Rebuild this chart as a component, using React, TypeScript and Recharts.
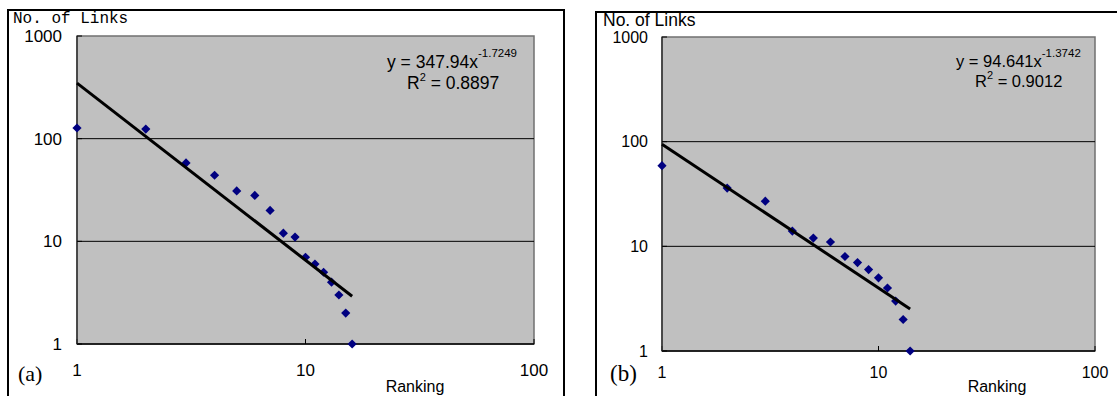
import React from "react";
import {
  ScatterChart,
  Scatter,
  XAxis,
  YAxis,
  CartesianGrid,
  ReferenceLine,
  ReferenceArea,
} from "recharts";

// panel (a)
const ranksA = [1, 2, 3, 4, 5, 6, 7, 8, 9, 10, 11, 12, 13, 14, 15, 16];
const linksA = [127, 124, 58, 44, 31, 28, 20, 12, 11, 7, 6, 5, 4, 3, 2, 1];
const fitA = { a: 347.94, b: -1.7249, aLabel: "347.94", bLabel: "-1.7249", r2: "0.8897" };

// panel (b)
const ranksB = [1, 2, 3, 4, 5, 6, 7, 8, 9, 10, 11, 12, 13, 14];
const linksB = [59, 36, 27, 14, 12, 11, 8, 7, 6, 5, 4, 3, 2, 1];
const fitB = { a: 94.641, b: -1.3742, aLabel: "94.641", bLabel: "-1.3742", r2: "0.9012" };

const xTicks = [1, 10, 100];
const yTicks = [1, 10, 100, 1000];
const gridValues = [10, 100];

type Fit = { a: number; b: number };

const toPoints = (xs: number[], ys: number[]) => xs.map((x, i) => ({ x, y: ys[i] }));
// power-law trendline is straight on log-log axes: its two ends are enough
const trendPoints = (xs: number[], fit: Fit) =>
  [xs[0], xs[xs.length - 1]].map((x) => ({ x, y: fit.a * Math.pow(x, fit.b) }));

const Diamond = (props: any) => {
  const { cx, cy } = props;
  const r = 4.6;
  return (
    <polygon
      points={`${cx},${cy - r} ${cx + r},${cy} ${cx},${cy + r} ${cx - r},${cy}`}
      fill="#000080"
    />
  );
};
const NoDot = () => <g />;

const sans = "'Liberation Sans', Arial, sans-serif";

type PanelProps = {
  width: number;
  margin: { top: number; right: number; bottom: number; left: number };
  ranks: number[];
  links: number[];
  fit: Fit;
  fontSize: number;
  yTickMargin: number;
  xTickMargin: number;
};

const Panel: React.FC<PanelProps> = ({ width, margin, ranks, links, fit, fontSize, yTickMargin, xTickMargin }) => (
  <ScatterChart width={width} height={396} margin={margin}>
    <CartesianGrid horizontal={false} vertical={false} fill="#C0C0C0" />
    {gridValues.map((v) => (
      <ReferenceLine key={v} y={v} stroke="#000" strokeWidth={1} />
    ))}
    <ReferenceArea x1={1} x2={100} y1={1} y2={1000} fill="none" stroke="#707070" strokeWidth={1.5} />
    <XAxis
      type="number"
      dataKey="x"
      scale="log"
      domain={[1, 100]}
      ticks={xTicks}
      interval={0}
      height={30}
      tickSize={-5}
      tickMargin={xTickMargin}
      axisLine={{ stroke: "#000", strokeWidth: 1.5 }}
      tickLine={{ stroke: "#000" }}
      tick={{ fill: "#000", fontSize, fontFamily: sans }}
    />
    <YAxis
      type="number"
      dataKey="y"
      scale="log"
      domain={[1, 1000]}
      ticks={yTicks}
      interval={0}
      width={60}
      tickSize={-5}
      tickMargin={yTickMargin}
      axisLine={{ stroke: "#333", strokeWidth: 1.5 }}
      tickLine={{ stroke: "#000" }}
      tick={{ fill: "#000", fontSize, fontFamily: sans }}
    />
    <Scatter data={toPoints(ranks, links)} shape={Diamond} isAnimationActive={false} />
    <Scatter
      data={trendPoints(ranks, fit)}
      shape={NoDot}
      stroke="#000"
      line={{ stroke: "#000", strokeWidth: 3 }}
      isAnimationActive={false}
    />
  </ScatterChart>
);

const App: React.FC = () => {
  return (
    <div
      style={{
        position: "absolute",
        left: 0,
        top: 0,
        width: 1117,
        height: 396,
        overflow: "hidden",
        background: "#fff",
      }}
    >
      <div style={{ position: "absolute", left: 7, top: 9, width: 554, height: 500, border: "2px solid #000" }} />
      <div style={{ position: "absolute", left: 595, top: 11, width: 600, height: 500, border: "2px solid #000" }} />

      <div style={{ position: "absolute", left: 0, top: 0 }}>
        <Panel
          width={580}
          margin={{ top: 36, right: 46, bottom: 22, left: 17 }}
          ranks={ranksA}
          links={linksA}
          fit={fitA}
          fontSize={17}
          yTickMargin={20}
          xTickMargin={25}
        />
      </div>
      <div style={{ position: "absolute", left: 580, top: 0 }}>
        <Panel
          width={537}
          margin={{ top: 37, right: 22, bottom: 15, left: 22 }}
          ranks={ranksB}
          links={linksB}
          fit={fitB}
          fontSize={16}
          yTickMargin={19}
          xTickMargin={21}
        />
      </div>

      <svg
        width={1117}
        height={396}
        style={{ position: "absolute", left: 0, top: 0, pointerEvents: "none" }}
      >
        <text x={13} y={23} fontSize={16} fontFamily="'Liberation Mono', 'DejaVu Sans Mono', monospace">
          No. of Links
        </text>
        <text x={603} y={26} fontSize={17.5} fontFamily={sans}>
          No. of Links
        </text>

        <text x={387} y={68} fontSize={17.5} fontFamily={sans}>
          y = {fitA.aLabel}x
          <tspan dy={-11} fontSize={11.5}>{fitA.bLabel}</tspan>
        </text>
        <text x={407} y={89} fontSize={17.5} fontFamily={sans}>
          R<tspan dy={-8} fontSize={11}>2</tspan>
          <tspan dy={8}> = {fitA.r2}</tspan>
        </text>

        <text x={956} y={67} fontSize={16.5} fontFamily={sans}>
          y = {fitB.aLabel}x
          <tspan dy={-10} fontSize={11.5}>{fitB.bLabel}</tspan>
        </text>
        <text x={975} y={87} fontSize={16.5} fontFamily={sans}>
          R<tspan dy={-8} fontSize={11}>2</tspan>
          <tspan dy={8}> = {fitB.r2}</tspan>
        </text>

        <text x={18} y={381} fontSize={22} fontFamily="'Liberation Serif', 'Times New Roman', serif">
          (a)
        </text>
        <text x={610} y={381} fontSize={23} fontFamily="'Liberation Serif', 'Times New Roman', serif">
          (b)
        </text>

        <text x={415} y={392} fontSize={16} fontFamily={sans} textAnchor="middle">
          Ranking
        </text>
        <text x={997} y={392} fontSize={16} fontFamily={sans} textAnchor="middle">
          Ranking
        </text>
      </svg>
    </div>
  );
};

export default App;
